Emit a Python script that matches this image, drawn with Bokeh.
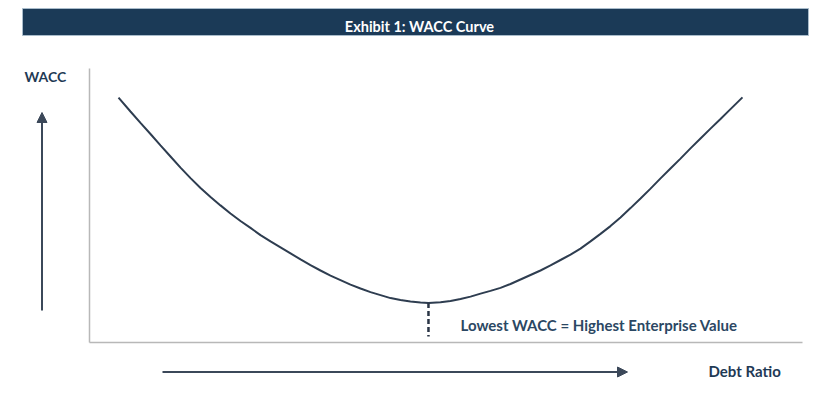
from bokeh.plotting import figure
from bokeh.models import Range1d, Arrow, NormalHead
from bokeh.core.properties import value
from bokeh.embed import file_html
from bokeh.resources import INLINE

# ---- data (debt ratio in %, WACC in %) ----
debt_ratio = [4.03, 5.69, 7.08, 8.47, 9.86, 11.25, 12.64, 14.03, 15.42, 16.81,
              18.19, 19.58, 20.97, 22.36, 23.75, 25.14, 26.53, 27.92, 29.31, 30.69,
              32.08, 33.47, 34.86, 36.25, 37.64, 39.03, 40.42, 41.81, 43.19, 44.58,
              45.97, 47.08, 48.75, 50.14, 51.53, 52.92, 54.31, 55.69, 57.08, 58.47,
              59.86, 61.25, 62.64, 64.03, 65.42, 66.81, 68.19, 69.58, 70.97, 72.36,
              73.75, 75.14, 76.53, 77.92, 79.31, 80.69, 82.08, 83.47, 84.86, 86.25,
              87.64, 89.03, 90.69]
wacc = [14.16, 13.70, 13.32, 12.95, 12.57, 12.20, 11.83, 11.48, 11.15, 10.85,
        10.57, 10.30, 10.05, 9.82, 9.58, 9.37, 9.17, 8.97, 8.77, 8.58,
        8.40, 8.23, 8.08, 7.93, 7.80, 7.68, 7.58, 7.48, 7.42, 7.37,
        7.33, 7.32, 7.34, 7.38, 7.45, 7.53, 7.63, 7.72, 7.82, 7.95,
        8.10, 8.25, 8.40, 8.57, 8.75, 8.93, 9.13, 9.37, 9.62, 9.88,
        10.17, 10.48, 10.80, 11.13, 11.47, 11.80, 12.13, 12.47, 12.80, 13.13,
        13.45, 13.78, 14.17]
min_debt_ratio = 47.08
min_wacc = 7.32

title_text = "Exhibit 1: WACC Curve"
y_label = "WACC"
x_label = "Debt Ratio"
note_text = "Lowest WACC = Highest Enterprise Value"

# ---- layout helpers: canvas pixel -> data space ----
X0, XS = 89.0, 7.2             # pixel of debt 0, pixels per % debt
Y0, YS, W0 = 342.0, 30.0, 6.0  # pixel of WACC W0, pixels per % WACC


def px(x):
    return (x - X0) / XS


def py(y):
    return W0 + (Y0 - y) / YS


W, H = 820, 400
p = figure(width=W, height=H, output_backend="svg", toolbar_location=None,
           x_range=Range1d(px(0), px(W)), y_range=Range1d(py(H), py(0)),
           min_border=0, min_border_left=0, min_border_right=0,
           min_border_top=0, min_border_bottom=0)
p.axis.visible = False
p.grid.visible = False
p.outline_line_color = None
p.background_fill_color = "white"
p.border_fill_color = "white"

NAVY = "#1b3a57"
TEXT = "#1f3a55"
DARK = "#2e3d50"
GRAY = "#b8b8b8"
FONT = value("Lato")

# title bar
p.quad(left=[px(22)], right=[px(808)], top=[py(8)], bottom=[py(35)],
       fill_color=NAVY, line_color="#a9bccb", line_width=1)
p.text(x=[px(419)], y=[py(25.5)], text=[title_text], text_font=FONT,
       text_font_size="14.5px", text_font_style="bold", text_color="white",
       text_align="center", text_baseline="alphabetic")

# axes lines
p.line(x=[px(89), px(89)], y=[py(68), py(342)], line_color=GRAY, line_width=1.5)
p.line(x=[px(89), px(802)], y=[py(342), py(342)], line_color=GRAY, line_width=1.5)

# direction arrows
p.add_layout(Arrow(x_start=px(41.5), y_start=py(310), x_end=px(41.5), y_end=py(112),
                   line_color="#3b4859", line_width=2,
                   end=NormalHead(size=10, fill_color="#3b4859", line_color="#3b4859")))
p.add_layout(Arrow(x_start=px(162), y_start=py(371.5), x_end=px(627), y_end=py(371.5),
                   line_color="#3b4859", line_width=2,
                   end=NormalHead(size=10, fill_color="#3b4859", line_color="#3b4859")))

# axis labels
p.text(x=[px(24)], y=[py(76)], text=[y_label], text_font=FONT,
       text_font_size="14px", text_font_style="bold", text_color=TEXT,
       text_align="left", text_baseline="alphabetic")
p.text(x=[px(708)], y=[py(370)], text=[x_label], text_font=FONT,
       text_font_size="15px", text_font_style="bold", text_color=TEXT,
       text_align="left", text_baseline="alphabetic")

# WACC curve
p.line(x=debt_ratio, y=wacc, line_color=DARK, line_width=2)

# minimum marker
p.line(x=[min_debt_ratio, min_debt_ratio], y=[min_wacc, py(336)],
       line_color="#2a3546", line_width=2.5, line_dash="5 3")
p.text(x=[px(460)], y=[py(324)], text=[note_text], text_font=FONT,
       text_font_size="15px", text_font_style="bold", text_color="#2b4763",
       text_align="left", text_baseline="alphabetic")

open("out.html", "w").write(file_html(p, INLINE))
